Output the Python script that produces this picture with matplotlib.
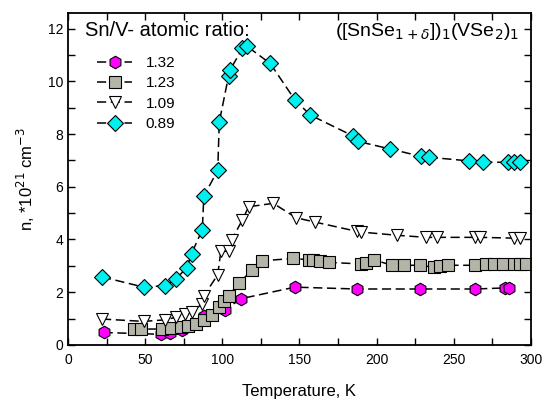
"""Carrier concentration vs temperature for ([SnSe1+d])1(VSe2)1 films."""

import matplotlib
matplotlib.use("Agg")
import matplotlib.pyplot as plt
from matplotlib.ticker import MultipleLocator

plt.rcParams["font.family"] = ["Liberation Sans", "DejaVu Sans"]

# Sn/V = 1.32
t_132 = [23, 60, 66, 74, 88, 102, 112, 147, 187, 228, 264, 283, 286]
n_132 = [0.47, 0.40, 0.44, 0.55, 1.10, 1.34, 1.75, 2.19, 2.12, 2.12, 2.12, 2.16, 2.16]

# Sn/V = 1.23
t_123 = [43, 47, 61, 67, 73, 78, 83, 88, 93, 98, 101, 104, 111, 119, 126,
         146, 156, 159, 163, 169, 190, 193, 198, 210, 218, 228, 237, 241, 246,
         264, 271, 276, 282, 289, 293, 297]
n_123 = [0.60, 0.60, 0.60, 0.63, 0.66, 0.72, 0.79, 0.93, 1.14, 1.43, 1.65, 1.86,
         2.35, 2.83, 3.19, 3.28, 3.23, 3.21, 3.20, 3.13, 3.07, 3.10, 3.23, 3.02,
         3.02, 3.02, 2.95, 2.98, 3.02, 3.02, 3.07, 3.07, 3.07, 3.07, 3.07, 3.07]

# Sn/V = 1.09
t_109 = [22, 49, 63, 70, 76, 80, 87, 88, 97, 99, 104, 106, 113, 117, 133,
         148, 160, 187, 190, 213, 232, 239, 264, 267, 289, 293]
n_109 = [0.98, 0.89, 0.95, 1.05, 1.17, 1.24, 1.56, 1.86, 2.66, 3.55, 3.55, 3.99,
         4.74, 5.24, 5.37, 4.82, 4.66, 4.31, 4.28, 4.16, 4.08, 4.08, 4.08, 4.08,
         4.05, 4.04]

# Sn/V = 0.89
t_089 = [22, 49, 63, 70, 77, 80, 87, 88, 97, 98, 104, 105, 113, 116, 131,
         147, 157, 185, 188, 209, 229, 234, 260, 269, 285, 289, 293]
n_089 = [2.58, 2.19, 2.25, 2.51, 2.93, 3.46, 4.37, 5.65, 6.62, 8.45, 10.2, 10.43,
         11.25, 11.33, 10.68, 9.3, 8.72, 7.92, 7.72, 7.43, 7.15, 7.12, 6.98, 6.93,
         6.93, 6.93, 6.93]

series = [
    ("1.32", t_132, n_132, "h", "#FF00FF", 9),
    ("1.23", t_123, n_123, "s", "#B4B4A8", 8),
    ("1.09", t_109, n_109, "v", "white", 8.5),
    ("0.89", t_089, n_089, "D", "#00F0F0", 8),
]


def main():
    fig = plt.figure(figsize=(5.45, 4.01), dpi=100)
    ax = fig.add_axes([0.125, 0.140, 0.849, 0.828])

    for label, t, n, marker, color, size in series:
        ax.plot(t, n, linestyle=(0, (6, 3)), color="black", linewidth=1.1,
                marker=marker, markersize=size, markerfacecolor=color,
                markeredgecolor="black", markeredgewidth=0.8, label=label)

    ax.set_xlim(0, 300)
    ax.set_ylim(0, 12.6)
    ax.xaxis.set_major_locator(MultipleLocator(50))
    ax.xaxis.set_minor_locator(MultipleLocator(25))
    ax.yaxis.set_major_locator(MultipleLocator(2))
    ax.yaxis.set_minor_locator(MultipleLocator(1))
    ax.tick_params(which="both", direction="in", top=True, right=True,
                   labelsize=10, width=1, length=5)
    ax.tick_params(axis="x", pad=6)
    for sp in ax.spines.values():
        sp.set_linewidth(1.3)

    ax.set_xlabel("Temperature, K", fontsize=12, labelpad=12)
    ax.set_ylabel(r"n, *10$^{21}$ cm$^{-3}$", fontsize=12, labelpad=8)

    ax.text(0.037, 0.948, "Sn/V- atomic ratio:", transform=ax.transAxes,
            ha="left", va="center", fontsize=14.5)
    ax.legend(loc="upper left", bbox_to_anchor=(0.063, 0.87), frameon=False,
              fontsize=11, handlelength=2.3, borderaxespad=0, borderpad=0,
              labelspacing=0.42, handletextpad=0.85)

    ax.text(0.975, 0.975, r"([SnSe$_{1+\delta}$])$_1$(VSe$_2$)$_1$",
            transform=ax.transAxes, ha="right", va="top", fontsize=14)

    fig.savefig("out.png", dpi=100)
    plt.close(fig)


if __name__ == "__main__":
    main()
